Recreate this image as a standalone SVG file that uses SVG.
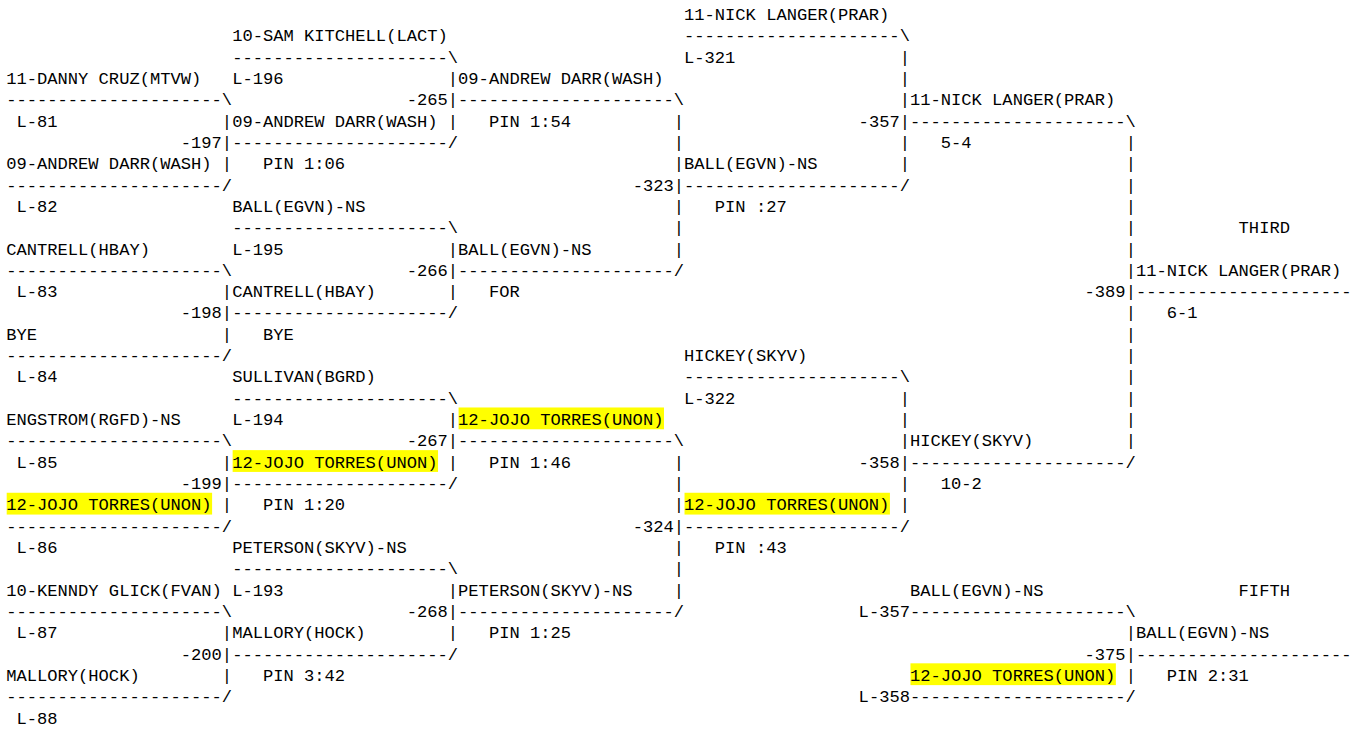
<svg xmlns="http://www.w3.org/2000/svg" width="1356" height="729" viewBox="0 0 1356 729">
<style>
text { font-family: "Liberation Mono", "DejaVu Sans Mono", monospace; font-size: 17.11px; fill: #000; white-space: pre; }
.hl { fill: #ffff00; }
</style>
<rect x="0" y="0" width="1356" height="729" fill="#ffffff"/>
<g opacity="0.995">
<g id="connectors">
<text x="684.02" y="41.32">---------------------\</text>
<text x="232.14" y="62.64">---------------------\</text>
<text x="899.69" y="62.64">|</text>
<text x="447.81" y="83.96">|</text>
<text x="899.69" y="83.96">|</text>
<text x="6.2" y="105.28">---------------------\</text>
<text x="447.81" y="105.28">|---------------------\</text>
<text x="899.69" y="105.28">|</text>
<text x="221.87" y="126.6">|</text>
<text x="447.81" y="126.6">|</text>
<text x="673.75" y="126.6">|</text>
<text x="899.69" y="126.6">|---------------------\</text>
<text x="221.87" y="147.92">|---------------------/</text>
<text x="673.75" y="147.92">|</text>
<text x="899.69" y="147.92">|</text>
<text x="1125.63" y="147.92">|</text>
<text x="221.87" y="169.24">|</text>
<text x="673.75" y="169.24">|</text>
<text x="899.69" y="169.24">|</text>
<text x="1125.63" y="169.24">|</text>
<text x="6.2" y="190.56">---------------------/</text>
<text x="673.75" y="190.56">|---------------------/</text>
<text x="1125.63" y="190.56">|</text>
<text x="673.75" y="211.88">|</text>
<text x="1125.63" y="211.88">|</text>
<text x="232.14" y="233.2">---------------------\</text>
<text x="673.75" y="233.2">|</text>
<text x="1125.63" y="233.2">|</text>
<text x="447.81" y="254.52">|</text>
<text x="673.75" y="254.52">|</text>
<text x="1125.63" y="254.52">|</text>
<text x="6.2" y="275.84">---------------------\</text>
<text x="447.81" y="275.84">|---------------------/</text>
<text x="1125.63" y="275.84">|</text>
<text x="221.87" y="297.16">|</text>
<text x="447.81" y="297.16">|</text>
<text x="1125.63" y="297.16">|---------------------</text>
<text x="221.87" y="318.48">|---------------------/</text>
<text x="1125.63" y="318.48">|</text>
<text x="221.87" y="339.8">|</text>
<text x="1125.63" y="339.8">|</text>
<text x="6.2" y="361.12">---------------------/</text>
<text x="1125.63" y="361.12">|</text>
<text x="684.02" y="382.44">---------------------\</text>
<text x="1125.63" y="382.44">|</text>
<text x="232.14" y="403.76">---------------------\</text>
<text x="899.69" y="403.76">|</text>
<text x="1125.63" y="403.76">|</text>
<text x="447.81" y="425.08">|</text>
<text x="899.69" y="425.08">|</text>
<text x="1125.63" y="425.08">|</text>
<text x="6.2" y="446.4">---------------------\</text>
<text x="447.81" y="446.4">|---------------------\</text>
<text x="899.69" y="446.4">|</text>
<text x="1125.63" y="446.4">|</text>
<text x="221.87" y="467.72">|</text>
<text x="447.81" y="467.72">|</text>
<text x="673.75" y="467.72">|</text>
<text x="899.69" y="467.72">|---------------------/</text>
<text x="221.87" y="489.04">|---------------------/</text>
<text x="673.75" y="489.04">|</text>
<text x="899.69" y="489.04">|</text>
<text x="221.87" y="510.36">|</text>
<text x="673.75" y="510.36">|</text>
<text x="899.69" y="510.36">|</text>
<text x="6.2" y="531.68">---------------------/</text>
<text x="673.75" y="531.68">|---------------------/</text>
<text x="673.75" y="553">|</text>
<text x="232.14" y="574.32">---------------------\</text>
<text x="673.75" y="574.32">|</text>
<text x="447.81" y="595.64">|</text>
<text x="673.75" y="595.64">|</text>
<text x="6.2" y="616.96">---------------------\</text>
<text x="447.81" y="616.96">|---------------------/</text>
<text x="909.96" y="616.96">---------------------\</text>
<text x="221.87" y="638.28">|</text>
<text x="447.81" y="638.28">|</text>
<text x="1125.63" y="638.28">|</text>
<text x="221.87" y="659.6">|---------------------/</text>
<text x="1125.63" y="659.6">|---------------------</text>
<text x="221.87" y="680.92">|</text>
<text x="1125.63" y="680.92">|</text>
<text x="6.2" y="702.24">---------------------/</text>
<text x="909.96" y="702.24">---------------------/</text>
</g>
<g id="bout-197">
<text x="6.2" y="83.96">11-DANNY CRUZ(MTVW)</text>
<text x="16.47" y="126.6">L-81</text>
<text x="180.79" y="147.92">-197</text>
<text x="6.2" y="169.24">09-ANDREW DARR(WASH)</text>
<text x="16.47" y="211.88">L-82</text>
</g>
<g id="bout-198">
<text x="6.2" y="254.52">CANTRELL(HBAY)</text>
<text x="16.47" y="297.16">L-83</text>
<text x="180.79" y="318.48">-198</text>
<text x="6.2" y="339.8">BYE</text>
<text x="16.47" y="382.44">L-84</text>
</g>
<g id="bout-199">
<text x="6.2" y="425.08">ENGSTROM(RGFD)-NS</text>
<text x="16.47" y="467.72">L-85</text>
<text x="180.79" y="489.04">-199</text>
<rect class="hl" x="6.7" y="492.76" width="205.4" height="21.8"/>
<text x="6.2" y="510.36">12-JOJO TORRES(UNON)</text>
<text x="16.47" y="553">L-86</text>
</g>
<g id="bout-200">
<text x="6.2" y="595.64">10-KENNDY GLICK(FVAN)</text>
<text x="16.47" y="638.28">L-87</text>
<text x="180.79" y="659.6">-200</text>
<text x="6.2" y="680.92">MALLORY(HOCK)</text>
<text x="16.47" y="723.56">L-88</text>
</g>
<g id="bout-265">
<text x="232.14" y="41.32">10-SAM KITCHELL(LACT)</text>
<text x="232.14" y="83.96">L-196</text>
<text x="406.73" y="105.28">-265</text>
<text x="232.14" y="126.6">09-ANDREW DARR(WASH)</text>
<text x="262.95" y="169.24">PIN 1:06</text>
</g>
<g id="bout-266">
<text x="232.14" y="211.88">BALL(EGVN)-NS</text>
<text x="232.14" y="254.52">L-195</text>
<text x="406.73" y="275.84">-266</text>
<text x="232.14" y="297.16">CANTRELL(HBAY)</text>
<text x="262.95" y="339.8">BYE</text>
</g>
<g id="bout-267">
<text x="232.14" y="382.44">SULLIVAN(BGRD)</text>
<text x="232.14" y="425.08">L-194</text>
<text x="406.73" y="446.4">-267</text>
<rect class="hl" x="232.64" y="450.12" width="205.4" height="21.8"/>
<text x="232.14" y="467.72">12-JOJO TORRES(UNON)</text>
<text x="262.95" y="510.36">PIN 1:20</text>
</g>
<g id="bout-268">
<text x="232.14" y="553">PETERSON(SKYV)-NS</text>
<text x="232.14" y="595.64">L-193</text>
<text x="406.73" y="616.96">-268</text>
<text x="232.14" y="638.28">MALLORY(HOCK)</text>
<text x="262.95" y="680.92">PIN 3:42</text>
</g>
<g id="bout-323">
<text x="458.08" y="83.96">09-ANDREW DARR(WASH)</text>
<text x="488.89" y="126.6">PIN 1:54</text>
<text x="632.67" y="190.56">-323</text>
<text x="458.08" y="254.52">BALL(EGVN)-NS</text>
<text x="488.89" y="297.16">FOR</text>
</g>
<g id="bout-324">
<rect class="hl" x="458.58" y="407.48" width="205.4" height="21.8"/>
<text x="458.08" y="425.08">12-JOJO TORRES(UNON)</text>
<text x="488.89" y="467.72">PIN 1:46</text>
<text x="632.67" y="531.68">-324</text>
<text x="458.08" y="595.64">PETERSON(SKYV)-NS</text>
<text x="488.89" y="638.28">PIN 1:25</text>
</g>
<g id="bout-357">
<text x="684.02" y="20">11-NICK LANGER(PRAR)</text>
<text x="684.02" y="62.64">L-321</text>
<text x="858.61" y="126.6">-357</text>
<text x="684.02" y="169.24">BALL(EGVN)-NS</text>
<text x="714.83" y="211.88">PIN :27</text>
</g>
<g id="bout-358">
<text x="684.02" y="361.12">HICKEY(SKYV)</text>
<text x="684.02" y="403.76">L-322</text>
<text x="858.61" y="467.72">-358</text>
<rect class="hl" x="684.52" y="492.76" width="205.4" height="21.8"/>
<text x="684.02" y="510.36">12-JOJO TORRES(UNON)</text>
<text x="714.83" y="553">PIN :43</text>
</g>
<g id="bout-389">
<text x="909.96" y="105.28">11-NICK LANGER(PRAR)</text>
<text x="940.77" y="147.92">5-4</text>
<text x="1084.55" y="297.16">-389</text>
<text x="909.96" y="446.4">HICKEY(SKYV)</text>
<text x="940.77" y="489.04">10-2</text>
</g>
<g id="third">
<text x="1238.6" y="233.2">THIRD</text>
<text x="1135.9" y="275.84">11-NICK LANGER(PRAR)</text>
<text x="1166.71" y="318.48">6-1</text>
</g>
<g id="bout-375">
<text x="909.96" y="595.64">BALL(EGVN)-NS</text>
<text x="858.61" y="616.96">L-357</text>
<text x="1084.55" y="659.6">-375</text>
<rect class="hl" x="910.46" y="663.32" width="205.4" height="21.8"/>
<text x="909.96" y="680.92">12-JOJO TORRES(UNON)</text>
<text x="858.61" y="702.24">L-358</text>
</g>
<g id="fifth">
<text x="1238.6" y="595.64">FIFTH</text>
<text x="1135.9" y="638.28">BALL(EGVN)-NS</text>
<text x="1166.71" y="680.92">PIN 2:31</text>
</g>
</g>
</svg>
